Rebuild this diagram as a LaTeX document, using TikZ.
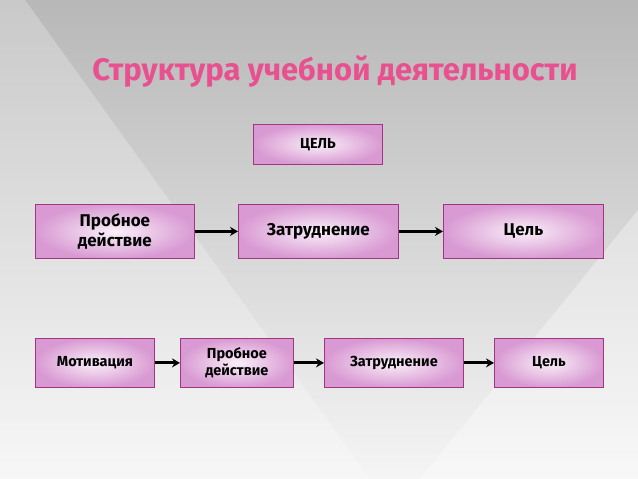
\documentclass[tikz,border=0pt]{standalone}
\usepackage{fontspec}
\setmainfont{Fira Sans}
\usetikzlibrary{arrows.meta}
\definecolor{bord}{HTML}{A0367F}
\definecolor{pinkedge}{HTML}{D99AD3}
\definecolor{titlec}{HTML}{E8508F}
\tikzset{
  box/.style={draw=bord, line width=0.8pt, inner color=white!85!pinkedge, outer color=pinkedge,
    font=\bfseries\fontsize{17}{20}\selectfont, align=center, anchor=north west},
  small/.style={font=\bfseries\fontsize{14.5}{17}\selectfont},
  conn/.style={-{Stealth[length=8pt,width=9pt]}, line width=3pt, black}
}
\begin{document}
\begin{tikzpicture}[x=1pt,y=-1pt]
\useasboundingbox (0,0) rectangle (638,479);
\shade[top color=black!28, bottom color=black!4] (0,0) rectangle (638,479);
\fill[white, opacity=0.25] (0,0) -- (25,0) -- (370,479) -- (0,479) -- cycle;
\fill[white, opacity=0.35] (638,210) -- (638,479) -- (420,479) -- cycle;
\node[text=titlec, font=\bfseries\fontsize{31}{34}\selectfont] (title) at (335,72) {Структура учебной деятельности};
\node[box, small, minimum width=129pt, minimum height=40pt] (goal) at (253,124) {ЦЕЛЬ};
\node[box, minimum width=159pt, minimum height=54pt] (a1) at (35,204) {Пробное\\действие};
\node[box, minimum width=160pt, minimum height=54pt] (a2) at (238,204) {Затруднение};
\node[box, minimum width=160pt, minimum height=54pt] (a3) at (443,204) {Цель};
\node[box, small, minimum width=119pt, minimum height=49pt] (b1) at (35,338) {Мотивация};
\node[box, small, minimum width=113pt, minimum height=49pt] (b2) at (180,338) {Пробное\\действие};
\node[box, small, minimum width=139pt, minimum height=49pt] (b3) at (324,338) {Затруднение};
\node[box, small, minimum width=109pt, minimum height=49pt] (b4) at (494,338) {Цель};
\draw[conn] (a1) -- (a2);
\draw[conn] (a2) -- (a3);
\draw[conn] (b1) -- (b2);
\draw[conn] (b2) -- (b3);
\draw[conn] (b3) -- (b4);
\end{tikzpicture}
\end{document}
